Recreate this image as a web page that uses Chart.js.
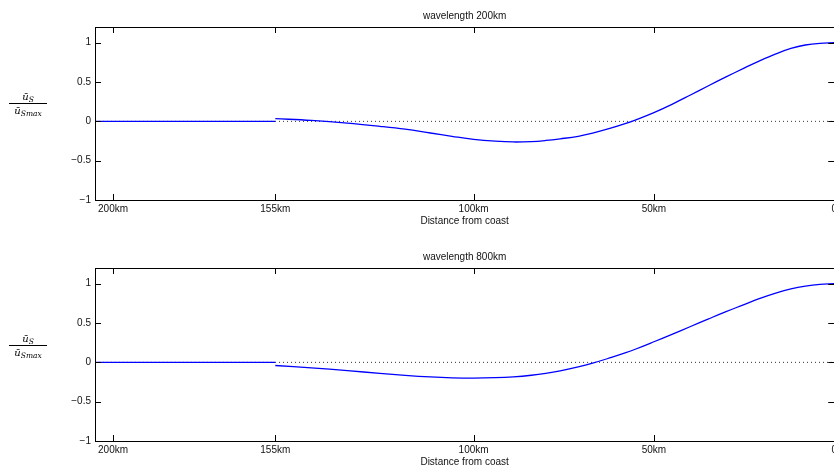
<!DOCTYPE html>
<html>
<head>
  <title>Normalised along-shore velocity</title>
  <style>
    html, body {
      margin: 0;
      padding: 0;
      background: #fff;
      overflow: hidden;
      width: 834px;
      height: 471px;
    }

    canvas {
      position: absolute;
      left: 0;
    }

    .ylab {
      position: absolute;
      left: 9px;
      width: 38px;
      font-family: "DejaVu Serif", "Liberation Serif", serif;
      font-style: italic;
      font-size: 10px;
      text-align: center;
      color: #000;
      line-height: 10px;
    }

    .ylab .bar {
      border-top: 1px solid #000;
      margin: 1px 0 2px 0;
    }

    .ylab sub {
      font-size: 7.5px;
      vertical-align: -2px;
      line-height: 0;
    }
  </style>
</head>
<body>
  <canvas id="top-plot" width="840" height="236" style="top:0px"></canvas>
  <canvas id="bottom-plot" width="840" height="236" style="top:241px"></canvas>

  <div class="ylab" style="top:92px">
    <div>ū<sub>S</sub></div>
    <div class="bar"></div>
    <div>ū<sub>Smax</sub></div>
  </div>
  <div class="ylab" style="top:334px">
    <div>ū<sub>S</sub></div>
    <div class="bar"></div>
    <div>ū<sub>Smax</sub></div>
  </div>

  <script src="https://cdn.jsdelivr.net/npm/chart.js"></script>
  <script>
    // axis ticks
    const xTickValues = [200, 155, 100, 50, 0];
    const xTickLabels = ["200km", "155km", "100km", "50km", "0"];
    const yTickValues = [-1, -0.5, 0, 0.5, 1];

    // flat part offshore and the zero reference line
    const flatKm = [205, 155];
    const flatVal = [0, 0];
    const zeroKm = [205, 0];
    const zeroVal = [0, 0];

    // distance from coast (km) for the profiles
    const profileKm = [155, 145, 135, 126, 119, 112, 106, 100, 94, 89, 84, 80, 76, 71, 67,
                       62, 58, 55, 50, 45, 40, 35, 30, 25, 21, 16, 12, 8, 4, 0];

    // wavelength 200km
    const profile200 = [0.035, 0.012, -0.022, -0.063, -0.10, -0.148, -0.19, -0.228, -0.252, -0.262,
                        -0.257, -0.243, -0.222, -0.19, -0.15, -0.0875, -0.03, 0.02, 0.112, 0.217,
                        0.332, 0.45, 0.565, 0.677, 0.763, 0.861, 0.927, 0.971, 0.993, 1.0];

    // wavelength 800km
    const profile800 = [-0.04, -0.07, -0.105, -0.14, -0.165, -0.185, -0.196, -0.2, -0.195, -0.184,
                        -0.164, -0.14, -0.108, -0.058, -0.01, 0.06, 0.12, 0.17, 0.262, 0.357,
                        0.453, 0.55, 0.645, 0.735, 0.808, 0.885, 0.935, 0.97, 0.992, 1.0];

    Chart.defaults.font.family = '"Liberation Sans", Arial, sans-serif';
    Chart.defaults.font.size = 10;
    Chart.defaults.color = "#111";

    const pts = (xs, ys) => xs.map((x, i) => ({ x: x, y: ys[i] }));

    // box round the axes with inward tick marks on all four sides
    const framePlugin = {
      id: "frame",
      afterDatasetsDraw(chart) {
        const { ctx, chartArea: a, scales } = chart;
        const tl = 6;
        ctx.save();
        ctx.strokeStyle = "#000";
        ctx.lineWidth = 1;
        ctx.beginPath();
        scales.x.ticks.forEach(t => {
          const px = Math.round(scales.x.getPixelForValue(t.value)) + 0.5;
          ctx.moveTo(px, a.bottom);
          ctx.lineTo(px, a.bottom - tl);
          ctx.moveTo(px, a.top);
          ctx.lineTo(px, a.top + tl);
        });
        scales.y.ticks.forEach(t => {
          const py = Math.round(scales.y.getPixelForValue(t.value)) + 0.5;
          ctx.moveTo(a.left, py);
          ctx.lineTo(a.left + tl, py);
          ctx.moveTo(a.right, py);
          ctx.lineTo(a.right - tl, py);
        });
        ctx.stroke();
        ctx.strokeRect(Math.round(a.left) + 0.5, Math.round(a.top) + 0.5,
                       Math.round(a.right - a.left), Math.round(a.bottom - a.top));
        ctx.restore();
      }
    };

    function makePlot(canvasId, titleText, values) {
      const ctx = document.getElementById(canvasId).getContext("2d");
      return new Chart(ctx, {
        type: "line",
        data: {
          datasets: [
            {
              data: pts(profileKm, values),
              borderColor: "#0000ff",
              borderWidth: 1.3,
              pointRadius: 0,
              tension: 0.4,
            },
            {
              data: pts(flatKm, flatVal),
              borderColor: "#0000ff",
              borderWidth: 1.3,
              pointRadius: 0,
            },
            {
              data: pts(zeroKm, zeroVal),
              borderColor: "#333",
              borderWidth: 1,
              borderDash: [1, 3],
              pointRadius: 0,
            },
          ],
        },
        options: {
          responsive: false,
          animation: false,
          layout: { padding: { left: 0, right: 5, top: 0, bottom: 0 } },
          scales: {
            x: {
              type: "linear",
              reverse: true,
              min: 0,
              max: 205,
              grid: { display: false, drawTicks: false },
              border: { display: false },
              afterBuildTicks: s => { s.ticks = xTickValues.map(v => ({ value: v })); },
              afterFit: s => { s.height = 36; },
              ticks: {
                autoSkip: false,
                maxRotation: 0,
                padding: 3,
                callback: (v, i) => xTickLabels[i],
              },
              title: {
                display: true,
                text: "Distance from coast",
                padding: { top: 0, bottom: 9 },
              },
            },
            y: {
              type: "linear",
              min: -1,
              max: 1.2,
              grid: { display: false, drawTicks: false },
              border: { display: false },
              afterBuildTicks: s => { s.ticks = yTickValues.map(v => ({ value: v })); },
              afterFit: s => { s.width = 95; },
              ticks: {
                padding: 4,
                callback: v => String(v).replace("-", "\u2212"),
              },
            },
          },
          plugins: {
            legend: { display: false },
            tooltip: { enabled: false },
            title: {
              display: true,
              text: titleText,
              fullSize: false,
              font: { size: 10, weight: "normal" },
              padding: { top: 10, bottom: 5 },
            },
          },
        },
        plugins: [framePlugin],
      });
    }

    makePlot("top-plot", "wavelength 200km", profile200);
    makePlot("bottom-plot", "wavelength 800km", profile800);
  </script>
</body>
</html>
